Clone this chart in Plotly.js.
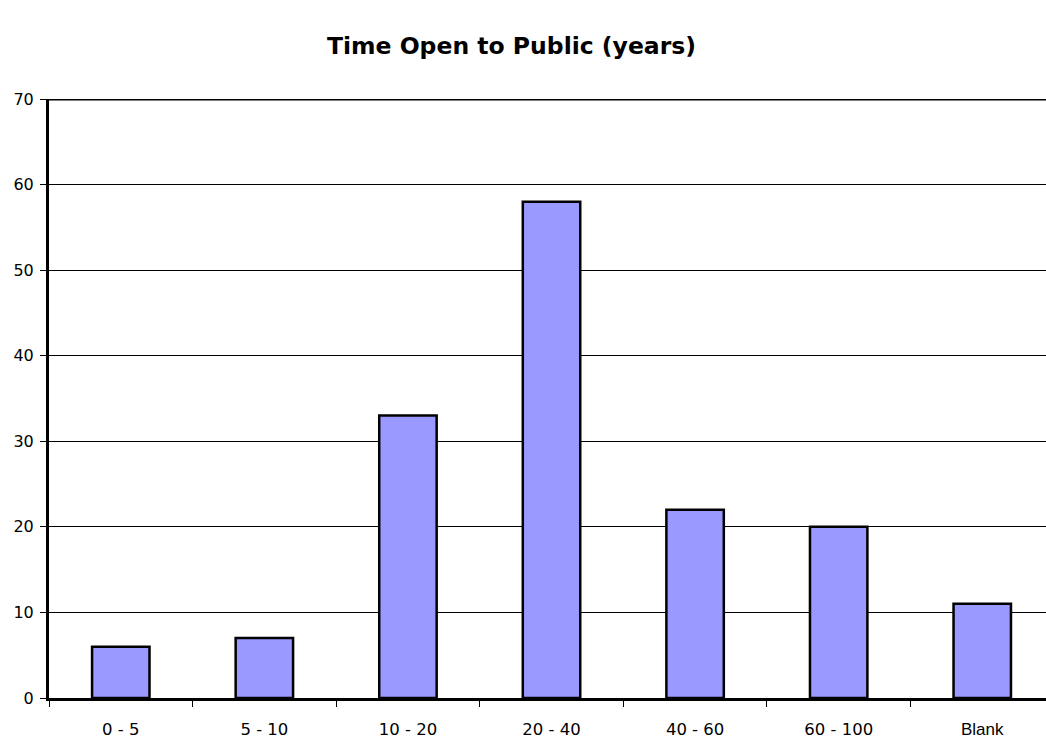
<!DOCTYPE html>
<html>
<head>
<meta charset="utf-8">
<script src="https://cdn.plot.ly/plotly-3.0.1.min.js"></script>
<style>
  html, body { margin: 0; padding: 0; background: #fff; }
  #chart { width: 1046px; height: 740px; }
</style>
</head>
<body>
<div id="chart"></div>
<script>
// Survey responses grouped by how long the site has been open to the public
const categories = ["0 - 5", "5 - 10", "10 - 20", "20 - 40", "40 - 60", "60 - 100", "Blank"];
const tickLabels = ["0 - 5", "5 - 10", "10 - 20", "20 - 40", "40 - 60", "60 - 100",
  "<span style='font-family:Liberation Sans, Arial, sans-serif;font-size:17px'>Blank</span>"];
const counts = [6, 7, 33, 58, 22, 20, 11];
const yTicks = [0, 10, 20, 30, 40, 50, 60, 70];

const trace = {
  type: "bar",
  x: categories,
  y: counts,
  width: 0.4,
  marker: {
    color: "#9999FF",
    line: { color: "#000000", width: 2.5 }
  },
  hoverinfo: "x+y"
};

const layout = {
  width: 1046,
  height: 740,
  margin: { l: 49, r: 0, t: 99, b: 42, pad: 0 },
  paper_bgcolor: "#ffffff",
  plot_bgcolor: "#ffffff",
  showlegend: false,
  title: {
    text: "<b>Time Open to Public (years)</b>",
    font: { family: "DejaVu Sans, Verdana, sans-serif", size: 23.5, color: "#000" },
    x: 511.5 / 1046,
    xanchor: "center",
    xref: "container",
    y: 1 - 46 / 740,
    yanchor: "middle",
    yref: "container"
  },
  xaxis: {
    type: "category",
    range: [-0.5, 6.444],
    tickmode: "array",
    tickvals: categories,
    ticktext: tickLabels,
    tickson: "boundaries",
    ticks: "outside",
    ticklen: 6,
    tickwidth: 1,
    tickcolor: "#000",
    ticklabelstandoff: 14,
    showline: true,
    linecolor: "#000",
    linewidth: 3,
    showgrid: false,
    zeroline: false,
    tickfont: { family: "DejaVu Sans, Verdana, sans-serif", size: 16.5, color: "#000" },
    fixedrange: true
  },
  yaxis: {
    range: [0, 70],
    tickmode: "array",
    tickvals: yTicks,
    ticks: "outside",
    ticklen: 6,
    tickwidth: 1,
    tickcolor: "#000",
    ticklabelstandoff: 3,
    showline: true,
    linecolor: "#000",
    linewidth: 3,
    showgrid: true,
    gridcolor: "#000",
    gridwidth: 1,
    zeroline: false,
    tickfont: { family: "DejaVu Sans, Verdana, sans-serif", size: 16, color: "#000" },
    fixedrange: true
  },
  shapes: [
    {
      type: "line",
      xref: "paper", yref: "y",
      x0: 0, x1: 1, y0: 70, y1: 70,
      line: { color: "#000", width: 3 }
    }
  ]
};

Plotly.newPlot("chart", [trace], layout, { displayModeBar: false, staticPlot: true });
</script>
</body>
</html>
